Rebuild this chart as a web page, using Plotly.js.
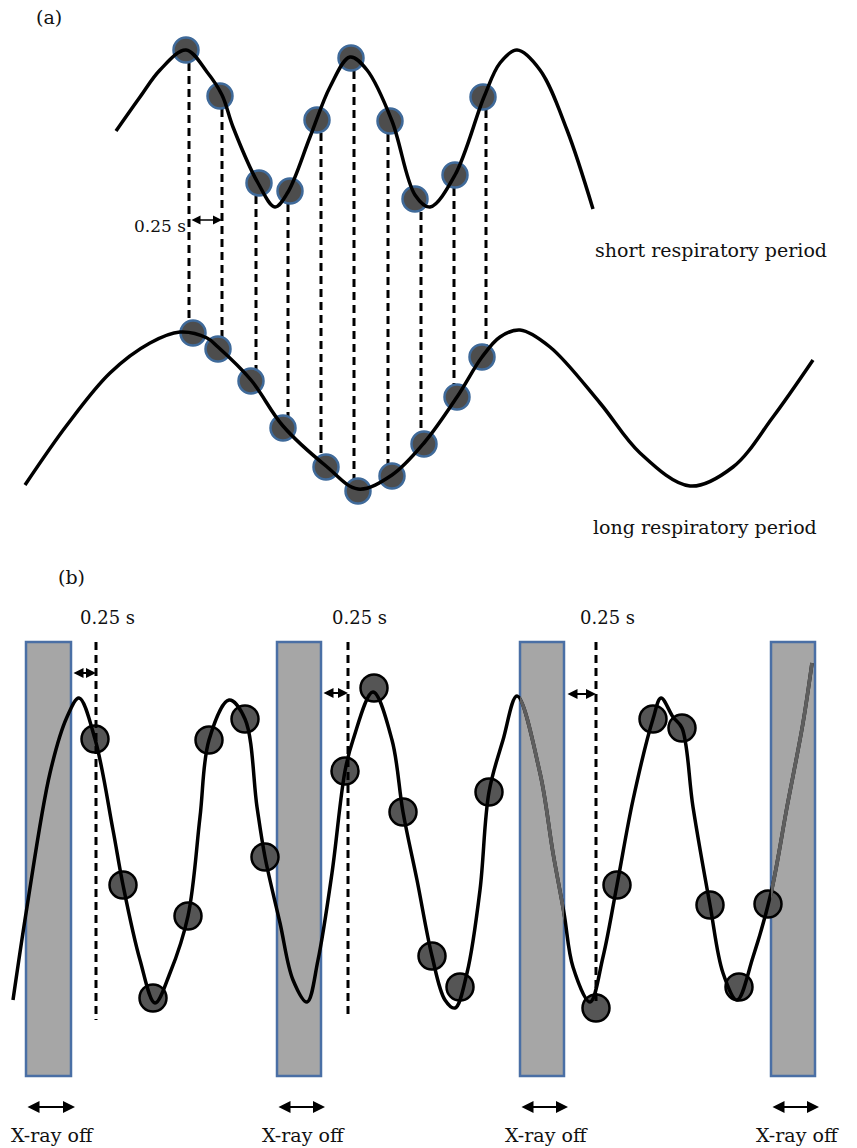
<!DOCTYPE html>
<html>
<head>
<meta charset="utf-8">
<script src="https://cdn.plot.ly/plotly-3.0.1.min.js"></script>
<style>html,body{margin:0;padding:0;background:#fff}#chart{width:857px;height:1148px}</style>
</head>
<body>
<div id="chart"></div>
<script>
// ---------- Panel (a) (page pixel units) ----------
const shortX = [116,140,160,186,207,222,233,258,275,288,310,330,350,367,392,415,430,455,484,500,517,540,567,593];
const shortY = [131,97,70,50,72,95,127,183,207,192,137,87,57,70,121,195,207,175,97,63,50,70,130,209];
const longX  = [25,67,110,150,180,207,218,251,283,326,358,392,424,457,482,500,520,550,600,640,690,733,773,813];
const longY  = [485,425,373,343,332,338,347,380,426,466,489,475,443,397,357,337,330,347,403,453,486,467,417,360];
const shortMarkX = [186,220,259,290,317,351,390,415,455,483];
const shortMarkY = [50,96,183,191,120,58,121,199,175,97];
const longMarkX  = [193,218,251,283,326,358,392,424,457,482];
const longMarkY  = [333,349,381,428,467,491,476,444,397,357];
const linkX      = [189,222,256,288,321,354,388,421,454,486];

// ---------- Panel (b) ----------
const waveX = [13,27,50,67,79,95,113,123,140,155,170,188,200,209,229,245,257,265,280,293,307,318,332,345,353,373,392,403,417,432,445,455,467,480,489,503,517,540,553,564,573,590,603,617,633,653,661,673,682,693,710,723,737,753,771,787,803,812];
const waveY = [1000,907,773,717,698,739,830,885,960,1003,973,916,817,740,700,719,807,857,923,980,1002,960,873,771,740,692,740,812,880,956,1000,1008,973,890,792,740,696,773,853,913,967,1002,957,885,800,719,698,717,728,807,905,973,1000,957,893,807,723,663];
const sampleX = [95,123,153,188,209,245,265,345,374,403,432,460,489,596,617,653,682,710,739,768];
const sampleY = [739,885,998,916,740,719,857,771,688,812,956,987,792,1008,885,719,728,905,987,904];
const offStart = [26,277,520,771];
const offEnd   = [71,321,564,815];
const offTop = 642, offBottom = 1076;
const offLabel = ["X-ray off","X-ray off","X-ray off","X-ray off"];
const gateX = [96,348,596];
const gateBottom = [1020,1018,1003];
const gateFrom = [72,322,566];
const gateArrowY = [673,693,694];
const gateLabel = ["0.25 s","0.25 s","0.25 s"];
const grayOff = [2,3]; // X-ray-off windows where the curve shows grey

const W = 857, H = 1148;
const traces = [];
const serif = "DejaVu Serif, Liberation Serif, serif";

// (a) dashed links
linkX.forEach((x,i)=>{
  traces.push({x:[x,x], y:[shortMarkY[i], longMarkY[i]], mode:'lines',
    line:{color:'#000', width:3, dash:'8px,5px'}, hoverinfo:'skip'});
});
// (a) samples
const aMarker = {size:25, color:'#4d4d4d', line:{color:'#3f6a9a', width:2.5}};
traces.push({x:shortMarkX, y:shortMarkY, mode:'markers', marker:aMarker});
traces.push({x:longMarkX, y:longMarkY, mode:'markers', marker:aMarker});
// (a) curves
traces.push({x:shortX, y:shortY, mode:'lines', line:{color:'#000', width:3.5, shape:'spline'}});
traces.push({x:longX, y:longY, mode:'lines', line:{color:'#000', width:3.5, shape:'spline'}});

// (b) samples
traces.push({x:sampleX, y:sampleY, mode:'markers',
  marker:{size:27, color:'#555555', line:{color:'#000', width:2.5}}});
// (b) dashed gates
gateX.forEach((x,i)=>{
  traces.push({x:[x,x], y:[offTop, gateBottom[i]], mode:'lines',
    line:{color:'#000', width:3, dash:'8px,5px'}, hoverinfo:'skip'});
});
// (b) breathing curve
traces.push({x:waveX, y:waveY, mode:'lines', line:{color:'#000', width:3.5, shape:'spline'}});
// grey copies of the same curve, clipped to the later X-ray-off windows
const extraAxes = {};
grayOff.forEach((k,j)=>{
  const id = j+2;
  extraAxes['xaxis'+id] = {domain:[offStart[k]/W, offEnd[k]/W], range:[offStart[k], offEnd[k]],
    anchor:'y', visible:false, fixedrange:true};
  traces.push({x:waveX, y:waveY, xaxis:'x'+id, yaxis:'y', mode:'lines',
    line:{color:'#5e5e5e', width:3.7, shape:'spline'}});
});

const shapes = offStart.map((x0,i)=>({type:'rect', xref:'x', yref:'y', x0:x0, x1:offEnd[i], y0:offTop, y1:offBottom,
  fillcolor:'#a6a6a6', line:{color:'#4a6fa5', width:2.5}, layer:'below'}));

const ann = [];
function txt(x,y,t,size,anchor){ ann.push({x:x,y:y,xref:'x',yref:'y',text:t,showarrow:false,
  xanchor:anchor||'center',yanchor:'middle',font:{family:serif,size:size,color:'#111'}}); }
function dbl(x0,x1,y,w,s){ ann.push({x:x1,y:y,ax:x0,ay:y,xref:'x',yref:'y',axref:'x',ayref:'y',text:'',
  showarrow:true,arrowside:'end+start',arrowhead:2,arrowsize:s,arrowwidth:w,arrowcolor:'#000'}); }

txt(49,17,'(a)',19);
txt(160,226,'0.25 s',17);
dbl(190,222,220,1.5,1.2);
txt(711,250,'short respiratory period',19);
txt(705,527,'long respiratory period',19);
txt(71,577,'(b)',19);
gateX.forEach((x,i)=>{ txt(x+11,617,gateLabel[i],18); dbl(gateFrom[i],x,gateArrowY[i],2,1); });
offStart.forEach((x0,i)=>{ dbl(x0,offEnd[i]+4,1107,2,1.2); txt((x0+offEnd[i]+4)/2+2,1135,offLabel[i],19); });

const layout = Object.assign({width:W,height:H,margin:{l:0,r:0,t:0,b:0},showlegend:false,
  paper_bgcolor:'#fff',plot_bgcolor:'rgba(0,0,0,0)',
  xaxis:{range:[0,W],domain:[0,1],visible:false,fixedrange:true},
  yaxis:{range:[H,0],domain:[0,1],visible:false,fixedrange:true},
  shapes:shapes, annotations:ann}, extraAxes);
Plotly.newPlot('chart',traces,layout,{staticPlot:true});
</script>
</body>
</html>
